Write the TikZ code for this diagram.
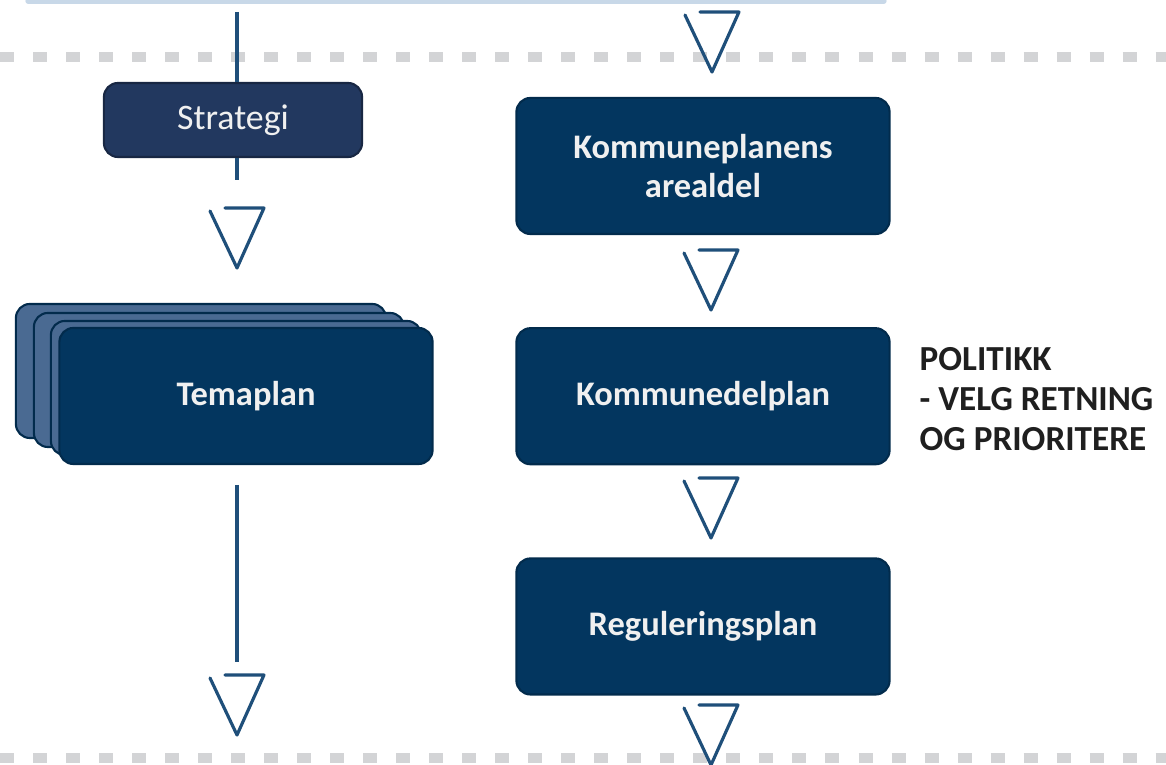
\documentclass[tikz,border=0pt]{standalone}
\usepackage{fontspec}
\setmainfont{Carlito}
\usepackage{tikz}
\usetikzlibrary{positioning}

\definecolor{planblue}{HTML}{03365F}
\definecolor{stratblue}{HTML}{22385F}
\definecolor{stackblue}{HTML}{4A6A92}
\definecolor{linkblue}{HTML}{1F4F7A}
\definecolor{dashgray}{HTML}{D3D4D6}
\definecolor{topline}{HTML}{C8D8E8}

\tikzset{
  plan/.style={draw=planblue!80!black, fill=planblue, rounded corners=4pt, text=white!94!black,
    font=\fontsize{9.8}{11.2}\selectfont\bfseries, align=center,
    minimum width=3.73cm, minimum height=1.36cm, line width=0.6pt},
  stack/.style={plan, fill=stackblue, minimum width=3.70cm, minimum height=1.34cm},
  link/.style={draw=linkblue, line width=1.1pt},
  sep/.style={draw=dashgray, line width=0.1cm, dash pattern=on 0.14cm off 0.19cm},
  tri/.pic={\draw[linkblue, line width=0.9pt, line join=round, line cap=round]
    (-12,0) -- (27,0) -- (0,60) -- (-27,3);}
}

\begin{document}
\begin{tikzpicture}[x=0.01cm, y=-0.01cm]
  \useasboundingbox (0,0) rectangle (1166,765);

  % Separators
  \draw[topline, line width=1.5pt, line cap=round] (28,1) -- (884,1);
  \draw[sep] (0,57) -- (1166,57);
  \draw[sep] (0,758) -- (1166,758);

  % Nodes
  \node[plan, fill=stratblue, draw=stratblue!70!black, font=\fontsize{10.2}{12}\selectfont,
    minimum width=2.58cm, minimum height=0.74cm] (strategi) at (233,120) {Strategi};
  \node[stack] (tema3) at (201,371) {};
  \node[stack] (tema2) at (219,380) {};
  \node[stack] (tema1) at (236,388) {};
  \node[plan] (tema) at (246,396) {Temaplan};

  \node[plan] (arealdel) at (703,166) {Kommuneplanens\\arealdel};
  \node[plan, below=0.92cm of arealdel] (delplan) {Kommunedelplan};
  \node[plan, below=0.92cm of delplan] (regplan) {Reguleringsplan};

  \node[font=\fontsize{10}{11.4}\selectfont\bfseries, text=black!88, align=left,
    anchor=north west, inner sep=0pt] (politikk) at (919,347) {POLITIKK\\- VELG RETNING\\OG PRIORITERE};

  % Lines
  \coordinate (stratin) at (237,12);
  \coordinate (stratout) at (237,180);
  \coordinate (temaout) at (237,485);
  \coordinate (temaend) at (237,662);
  \draw[link] (stratin) -- (stratin |- strategi.north);
  \draw[link] (stratout |- strategi.south) -- (stratout);
  \draw[link] (temaout) -- (temaend);

  % Arrows
  \pic at (237,208) {tri};
  \pic at (237,675) {tri};
  \pic at (712,12) {tri};
  \pic at (711,250) {tri};
  \pic at (711,478) {tri};
  \pic at (711,705) {tri};
\end{tikzpicture}
\end{document}
